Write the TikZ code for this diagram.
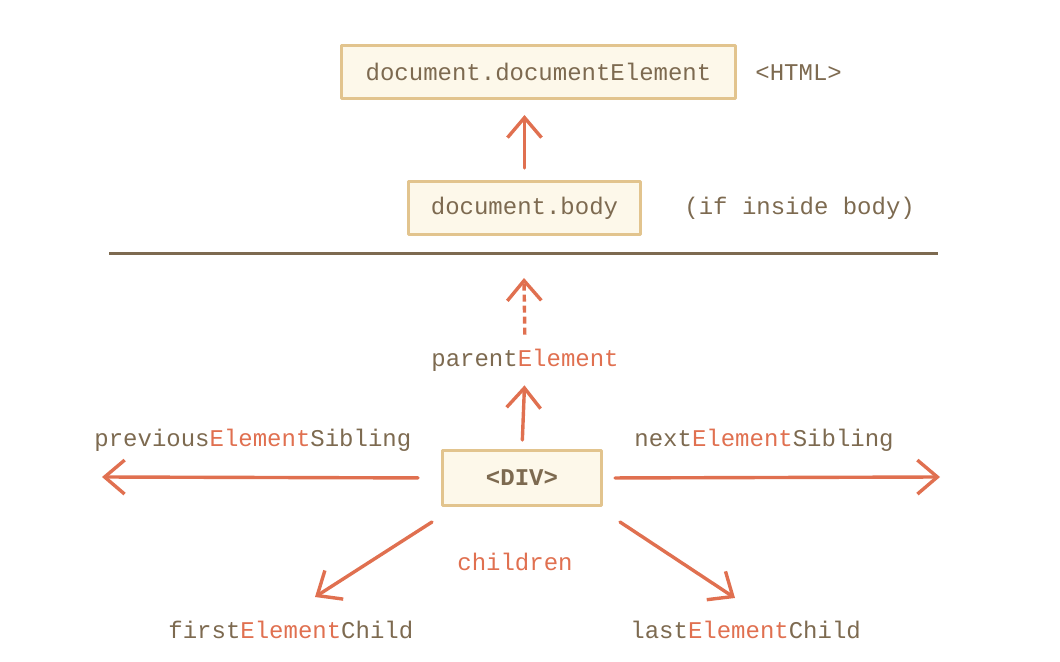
\documentclass[tikz,border=0pt]{standalone}
\usepackage{fontspec}
\setmainfont{Liberation Mono}
\usetikzlibrary{arrows.meta}
\definecolor{txtbrown}{HTML}{7D6A50}
\definecolor{navred}{HTML}{E07050}
\definecolor{boxline}{HTML}{E2C48E}
\definecolor{boxfill}{HTML}{FDF8EA}
\newcommand{\El}{\textcolor{navred}{Element}}
\begin{document}
\begin{tikzpicture}[x=0.5pt, y=-0.5pt, font=\fontsize{12}{14}\selectfont, text=txtbrown, line join=round, line cap=round, >={Straight Barb[length=10pt,width=17pt]}]
	\tikzset{elbox/.style={draw=boxline, fill=boxfill, line width=1.5pt, inner sep=0pt, minimum height=26.5pt},
		lbl/.style={inner sep=0pt, anchor=base west},
		nav/.style={->, draw=navred, line width=1.7pt}}
	\useasboundingbox (0,0) rectangle (1060,662);
	% boxes
	\node[elbox, minimum width=197pt] (html) at (538.5,72) {document.documentElement};
	\node[elbox, minimum width=116pt] (body) at (524.5,208) {document.body};
	\node[elbox, minimum width=79.5pt, minimum height=27.5pt] (div) at (522,478) {\bfseries <DIV>};
	% labels
	\node[lbl] (htmltag) at (755,81) {<HTML>};
	\node[lbl] (ifbody) at (684,215) {(if inside body)};
	\node[lbl, anchor=base] (parent) at (525,367) {parent\El};
	\node[lbl] (prev) at (94,447) {previous\El Sibling};
	\node[lbl] (next) at (634,447) {next\El Sibling};
	\node[lbl, anchor=base, text=navred] (children) at (515,570) {children};
	\node[lbl] (first) at (168,638) {first\El Child};
	\node[lbl] (last) at (630,638) {last\El Child};
	% tips and rule
	\coordinate (ruleL) at (109,254); \coordinate (ruleR) at (938,254);
	\coordinate (ptip) at (524,278);
	\coordinate (ltip) at (102,477); \coordinate (rtip) at (940,477);
	\coordinate (ftip) at (315,597); \coordinate (lstip) at (735,598);
	\draw[txtbrown, line width=1.5pt, line cap=butt] (ruleL) -- (ruleR);
	\draw[nav, shorten <=6pt, shorten >=7.5pt] (body.north) -- (body.north |- html.south);
	\draw[nav, line cap=butt, dash pattern=on 3.5pt off 2pt, shorten <=7.25pt] (parent.north) -- (ptip);
	\draw[nav, shorten <=4.5pt, shorten >=6.5pt] (div.north) -- (parent.south);
	\draw[nav, shorten <=11.5pt] (div.west) -- (ltip);
	\draw[nav, shorten <=6pt] (div.east) -- (rtip);
	\draw[nav] ([xshift=-4.5pt,yshift=-7.5pt]div.south west) -- (ftip);
	\draw[nav] ([xshift=8.5pt,yshift=-7.5pt]div.south east) -- (lstip);
\end{tikzpicture}
\end{document}
